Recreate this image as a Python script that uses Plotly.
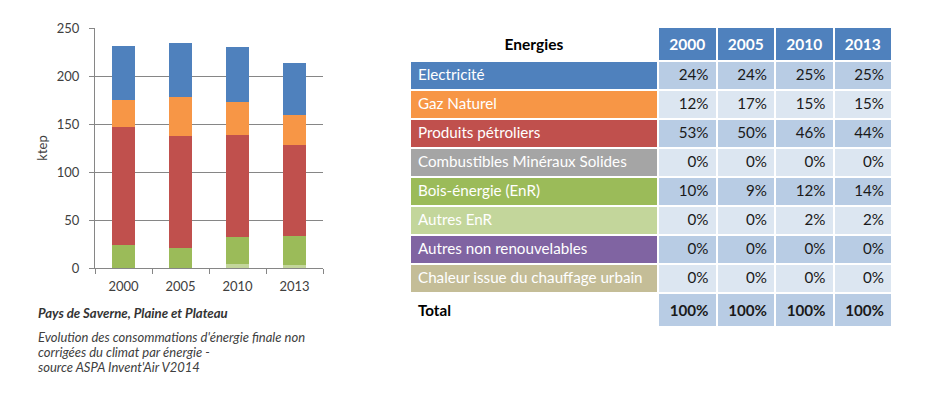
import plotly.graph_objects as go

# ---------------- data ----------------
years = ["2000", "2005", "2010", "2013"]
electricite = [55.6, 56.6, 58.0, 53.8]
gaz_naturel = [28.8, 40.0, 33.7, 31.6]
produits_petroliers = [122.9, 117.3, 106.3, 95.1]
bois_energie = [23.6, 20.5, 28.1, 29.9]
autres_enr = [0.0, 0.0, 4.5, 3.1]

energies = ["Electricité", "Gaz Naturel", "Produits pétroliers",
            "Combustibles Minéraux Solides", "Bois-énergie (EnR)", "Autres EnR",
            "Autres non renouvelables", "Chaleur issue du chauffage urbain"]
pct_2000 = ["24%", "12%", "53%", "0%", "10%", "0%", "0%", "0%"]
pct_2005 = ["24%", "17%", "50%", "0%", "9%", "0%", "0%", "0%"]
pct_2010 = ["25%", "15%", "46%", "0%", "12%", "2%", "0%", "0%"]
pct_2013 = ["25%", "15%", "44%", "0%", "14%", "2%", "0%", "0%"]
total_label = "Total"
totals = ["100%", "100%", "100%", "100%"]

# ---------------- styles ----------------
W, H = 949, 408
OFF = 8  # page body margin
FONT = "Lato"
C_BLUE = "#4F81BD"
C_ORANGE = "#F79646"
C_RED = "#C0504D"
C_GRAY = "#A5A5A5"
C_GREEN = "#9BBB59"
C_LGREEN = "#C3D69B"
C_PURPLE = "#8064A2"
C_TAN = "#C4BD97"
label_colors = [C_BLUE, C_ORANGE, C_RED, C_GRAY, C_GREEN, C_LGREEN, C_PURPLE, C_TAN]
MED, LIGHT = "#B8CCE4", "#DCE6F1"

def px_x(x):
    return (x - OFF) / W

def px_y(y):
    return 1 - (y - OFF) / H

fig = go.Figure()

# stacked bars (bottom -> top)
series = [
    ("Autres EnR", autres_enr, C_LGREEN),
    ("Bois-énergie (EnR)", bois_energie, C_GREEN),
    ("Produits pétroliers", produits_petroliers, C_RED),
    ("Gaz Naturel", gaz_naturel, C_ORANGE),
    ("Electricité", electricite, C_BLUE),
]
for name, vals, col in series:
    fig.add_trace(go.Bar(x=years, y=vals, name=name, marker=dict(color=col, line=dict(width=0)),
                         xaxis="x", yaxis="y", showlegend=False))

# table
n = len(energies)
col0 = [e.replace(" ", "\u00a0") for e in energies] + ["<b>" + total_label + "</b>"]
cols = [col0]
for p, t in zip([pct_2000, pct_2005, pct_2010, pct_2013], totals):
    cols.append(p + ["<b>" + t + "</b>"])

fill0 = label_colors + ["white"]
fill_val = [MED if i % 2 == 0 else LIGHT for i in range(n)] + [MED]
font0 = ["white"] * n + ["black"]
font_val = ["#1a1a1a"] * (n + 1)

fig.add_trace(go.Table(
    domain=dict(x=[px_x(410), px_x(892)], y=[0.0, px_y(27)]),
    columnwidth=[248, 58.5, 58.5, 58.5, 58.5],
    header=dict(
        values=["<b>Energies</b>"] + ["<b>" + y + "</b>" for y in years],
        fill=dict(color=["white", C_BLUE, C_BLUE, C_BLUE, C_BLUE]),
        font=dict(family=FONT, size=15.5, color=["black", "white", "white", "white", "white"]),
        align="center",
        height=29,
        line=dict(color="white", width=2),
    ),
    cells=dict(
        values=cols,
        fill=dict(color=[fill0, fill_val, fill_val, fill_val, fill_val]),
        font=dict(family=FONT, size=15.2, color=[font0, font_val, font_val, font_val, font_val]),
        align=["left", "right", "right", "right", "right"],
        height=29,
        line=dict(color="white", width=2),
    ),
))

AX = "#868686"
fig.update_layout(
    width=W, height=H,
    margin=dict(l=0, r=0, t=0, b=0, pad=0, autoexpand=False),
    paper_bgcolor="white", plot_bgcolor="white",
    barmode="stack", bargap=0.6,
    font=dict(family=FONT, color="#404040"),
    xaxis=dict(domain=[px_x(95), px_x(323)], type="category", automargin=False,
               showline=True, linecolor=AX, linewidth=1,
               ticks="outside", tickson="boundaries", ticklen=5, tickcolor=AX,
               tickfont=dict(size=13, color="#404040"), ticklabelstandoff=6,
               showgrid=False),
    yaxis=dict(domain=[px_y(268), px_y(28)], range=[0, 250], dtick=50, automargin=False,
               showline=True, linecolor=AX, linewidth=1,
               ticks="outside", ticklen=5, tickcolor=AX,
               showgrid=True, gridcolor=AX, gridwidth=1,
               tickfont=dict(size=13, color="#404040"), ticklabelstandoff=7,
               title=dict(text="ktep", font=dict(size=13, color="#404040"), standoff=6),
               zeroline=False),
)

# captions
fig.add_annotation(text="<b><i>Pays de Saverne, Plaine et Plateau</i></b>",
                   x=px_x(36), y=px_y(313), xref="paper", yref="paper",
                   xanchor="left", yanchor="middle", showarrow=False,
                   font=dict(family=FONT, size=13.2, color="#333333"))
caption_lines = ["Evolution des consommations d'énergie finale non",
                 "corrigées du climat par énergie -",
                 "source ASPA Invent'Air V2014"]
for i, line in enumerate(caption_lines):
    fig.add_annotation(text="<i>" + line + "</i>",
                       x=px_x(36), y=px_y(337 + 15 * i), xref="paper", yref="paper",
                       xanchor="left", yanchor="middle", showarrow=False,
                       font=dict(family=FONT, size=13, color="#404040"))

fig.write_html("out.html")
